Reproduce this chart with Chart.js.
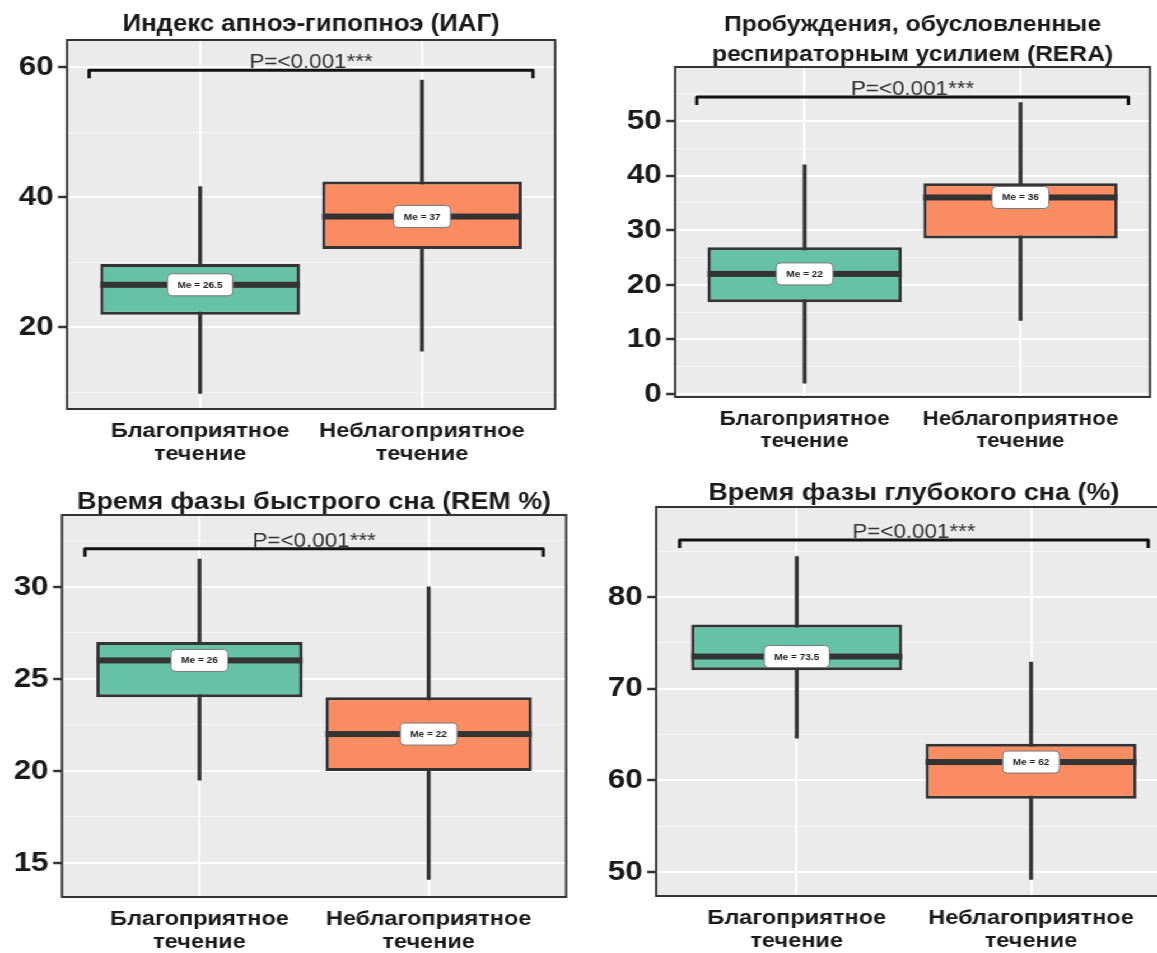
<!DOCTYPE html>
<html>
<head>
<meta charset="utf-8">
<script src="https://cdn.jsdelivr.net/npm/chart.js@4.4.1/dist/chart.umd.min.js"></script>
<style>
  html, body { margin: 0; padding: 0; background: #fff; overflow: hidden; }
  #stage { position: absolute; left: 0; top: 0; width: 1040px; height: 953px; transform: scaleX(1.12); transform-origin: 0 0; }
  #stage canvas { position: absolute; }
</style>
</head>
<body>
<div id="stage"></div>
<script>
// Data (one row per panel: ИАГ, RERA, REM %, глубокий сон %)
const categories = [['Благоприятное', 'течение'], ['Неблагоприятное', 'течение']];
const titles = [
  ['Индекс апноэ-гипопноэ (ИАГ)'],
  ['Пробуждения, обусловленные', 'респираторным усилием (RERA)'],
  ['Время фазы быстрого сна (REM %)'],
  ['Время фазы глубокого сна (%)']
];
const whiskerLow = [[9.8, 16.3], [2, 13.5], [19.5, 14.1], [64.6, 49.2]];
const q1 = [[21.9, 32], [16.8, 28.5], [24, 20], [72, 58]];
const medians = [[26.5, 37], [22, 36], [26, 22], [73.5, 62]];
const q3 = [[29.7, 42.4], [26.9, 38.6], [27, 24], [77, 64]];
const whiskerHigh = [[41.6, 58], [42, 53.4], [31.5, 30], [84.4, 72.9]];
const yTicks = [[20, 40, 60], [0, 10, 20, 30, 40, 50], [15, 20, 25, 30], [50, 60, 70, 80]];
const yMin = [7.4, -0.55, 13.15, 47.4];
const yMax = [64.15, 59.9, 33.9, 89.8];
const bracketY = [59.5, 54.4, 32.07, 86.2];
const pLabels = ['P=<0.001***', 'P=<0.001***', 'P=<0.001***', 'P=<0.001***'];
const boxColors = ['#66C2A5', '#FC8D62'];

// page layout (real pixels)
const SX = 1.12;
const layout = [
  { left: 0,   top: 0,   w: 580, h: 470, plotL: 67, plotR: 555, plotT: 40, plotB: 409, titleY: [25],     titleFont: 23, xFont: 21 },
  { left: 580, top: 0,   w: 577, h: 470, plotL: 95, plotR: 570, plotT: 67, plotB: 397, titleY: [25, 55], titleFont: 22, xFont: 20 },
  { left: 0,   top: 470, w: 580, h: 483, plotL: 62, plotR: 566, plotT: 45, plotB: 427, titleY: [32],     titleFont: 24, xFont: 21 },
  { left: 580, top: 470, w: 620, h: 483, plotL: 76, plotR: 591, plotT: 37, plotB: 426, titleY: [23],     titleFont: 24, xFont: 21 }
];

const FONT = '"Liberation Sans", Arial, sans-serif';
Chart.defaults.font.family = FONT;

function minorTicks(ticks, lo, hi) {
  const step = ticks[1] - ticks[0];
  const out = [];
  for (let v = ticks[0] - step / 2; v <= ticks[ticks.length - 1] + step / 2; v += step) {
    if (v >= lo && v <= hi) out.push(v);
  }
  return out;
}

const decor = {
  id: 'decor',
  beforeDraw(chart) {
    const { ctx, chartArea: a } = chart;
    ctx.save();
    ctx.fillStyle = '#ffffff';
    ctx.fillRect(0, 0, chart.width, chart.height);
    ctx.fillStyle = '#EBEBEB';
    ctx.fillRect(a.left, a.top, a.right - a.left, a.bottom - a.top);
    ctx.restore();
  },
  afterDatasetsDraw(chart, args, opts) {
    const p = opts.panel;
    const { ctx } = chart;
    const y = chart.scales.y;
    const meta = chart.getDatasetMeta(1);
    ctx.save();
    meta.data.forEach((bar, i) => {
      const py = y.getPixelForValue(medians[p][i]);
      ctx.fillStyle = '#333333';
      ctx.fillRect(bar.x - bar.width / 2, py - 3, bar.width, 6);
      const txt = 'Me = ' + medians[p][i];
      ctx.font = 'bold 9px ' + FONT;
      const bw = ctx.measureText(txt).width + 18;
      const bh = 22;
      ctx.beginPath();
      ctx.roundRect(bar.x - bw / 2, py - bh / 2, bw, bh, 4);
      ctx.fillStyle = '#ffffff';
      ctx.fill();
      ctx.strokeStyle = '#777777';
      ctx.lineWidth = 1;
      ctx.stroke();
      ctx.fillStyle = '#222222';
      ctx.textAlign = 'center';
      ctx.textBaseline = 'middle';
      ctx.fillText(txt, bar.x, py + 0.5);
    });
    ctx.restore();
  },
  afterDraw(chart, args, opts) {
    const p = opts.panel;
    const L = layout[p];
    const { ctx, chartArea: a } = chart;
    const x = chart.scales.x, y = chart.scales.y;
    ctx.save();
    // panel border
    ctx.strokeStyle = '#333333';
    ctx.lineWidth = 2;
    ctx.strokeRect(a.left, a.top, a.right - a.left, a.bottom - a.top);
    // significance bracket
    const by = y.getPixelForValue(bracketY[p]);
    const x0 = x.getPixelForValue(0.5), x1 = x.getPixelForValue(2.5);
    ctx.strokeStyle = '#111111';
    ctx.lineWidth = 3;
    ctx.lineJoin = 'round';
    ctx.beginPath();
    ctx.moveTo(x0, by + 8);
    ctx.lineTo(x0, by);
    ctx.lineTo(x1, by);
    ctx.lineTo(x1, by + 8);
    ctx.stroke();
    ctx.fillStyle = '#333333';
    ctx.font = '20px ' + FONT;
    ctx.textAlign = 'center';
    ctx.textBaseline = 'alphabetic';
    ctx.fillText(pLabels[p], (x0 + x1) / 2, by - 2);
    // title
    ctx.fillStyle = '#1a1a1a';
    ctx.font = 'bold ' + L.titleFont + 'px ' + FONT;
    ctx.textBaseline = 'middle';
    const cx = (a.left + a.right) / 2;
    titles[p].forEach((line, k) => ctx.fillText(line, cx, L.titleY[k]));
    ctx.restore();
  }
};

const stage = document.getElementById('stage');

layout.forEach((L, p) => {
  const canvas = document.createElement('canvas');
  const cw = Math.round(L.w / SX);
  canvas.width = cw;
  canvas.height = L.h;
  canvas.style.left = (L.left / SX) + 'px';
  canvas.style.top = L.top + 'px';
  canvas.style.width = cw + 'px';
  canvas.style.height = L.h + 'px';
  stage.appendChild(canvas);

  const majors = yTicks[p];
  const allTicks = majors.concat(minorTicks(majors, yMin[p], yMax[p])).sort((a, b) => a - b);
  const isMajor = (ctx) => ctx.tick && majors.includes(ctx.tick.value);

  new Chart(canvas, {
    type: 'bar',
    data: {
      datasets: [
        {
          label: 'whiskers',
          data: [{ x: 1, y: [whiskerLow[p][0], whiskerHigh[p][0]] }, { x: 2, y: [whiskerLow[p][1], whiskerHigh[p][1]] }],
          backgroundColor: '#333333',
          barThickness: 2.8,
          grouped: false,
          order: 2
        },
        {
          label: 'boxes',
          data: [{ x: 1, y: [q1[p][0], q3[p][0]] }, { x: 2, y: [q1[p][1], q3[p][1]] }],
          backgroundColor: boxColors,
          borderColor: '#333333',
          borderWidth: 3,
          borderSkipped: false,
          categoryPercentage: 0.9,
          barPercentage: 1,
          grouped: false,
          order: 1
        }
      ]
    },
    options: {
      responsive: false,
      animation: false,
      events: [],
      layout: { padding: { left: 0, right: (L.w - L.plotR) / SX, top: L.plotT, bottom: 0 } },
      plugins: {
        legend: { display: false },
        tooltip: { enabled: false },
        decor: { panel: p }
      },
      scales: {
        x: {
          type: 'linear',
          min: 0.4,
          max: 2.6,
          offset: false,
          afterBuildTicks: (s) => { s.ticks = [{ value: 1 }, { value: 2 }]; },
          afterFit: (s) => { s.height = L.h - L.plotB; },
          ticks: {
            callback: (v) => categories[v - 1],
            autoSkip: false,
            maxRotation: 0,
            padding: 11,
            color: '#1a1a1a',
            font: { size: L.xFont, weight: 'bold', lineHeight: 1.1 }
          },
          grid: { color: '#ffffff', lineWidth: 2, drawTicks: false, offset: false },
          border: { display: false }
        },
        y: {
          min: yMin[p],
          max: yMax[p],
          afterBuildTicks: (s) => { s.ticks = allTicks.map(v => ({ value: v })); },
          afterFit: (s) => { s.width = L.plotL / SX; },
          ticks: {
            callback: (v) => majors.includes(v) ? String(v) : '',
            autoSkip: false,
            padding: 4,
            color: '#1a1a1a',
            font: { size: 28, weight: 'bold' }
          },
          grid: {
            color: (c) => isMajor(c) ? '#ffffff' : '#f6f6f6',
            lineWidth: (c) => isMajor(c) ? 2 : 1,
            tickColor: (c) => isMajor(c) ? '#333333' : 'rgba(0,0,0,0)',
            tickLength: 8,
            tickWidth: 2.5
          },
          border: { display: false }
        }
      }
    },
    plugins: [decor]
  });
});
</script>
</body>
</html>
